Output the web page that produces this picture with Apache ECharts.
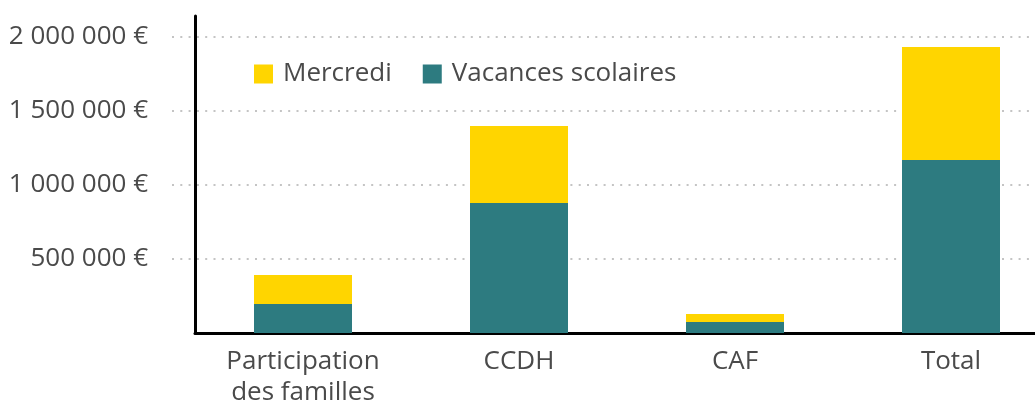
<!DOCTYPE html>
<html>
<head>
<meta charset="utf-8">
<script src="https://cdn.jsdelivr.net/npm/echarts@6/dist/echarts.min.js"></script>
<style>
  html, body { margin: 0; padding: 0; background: #fff; }
  #chart { width: 1035px; height: 405px; }
</style>
</head>
<body>
<div id="chart"></div>
<script>
// data
var categories = ['Participation\ndes familles', 'CCDH', 'CAF', 'Total'];
var vacances = [196000, 878000, 74000, 1169000];
var mercredi = [196000, 521000, 54000, 763000];
var tickValues = [500000, 1000000, 1500000, 2000000];

var textColor = '#4a4a4a';
var font = 'Open Sans';
var fs = 26;

function euro(v) {
    var s = String(Math.round(v));
    return s.replace(/\B(?=(\d{3})+(?!\d))/g, ' ') + ' €';
}

var chart = echarts.init(document.getElementById('chart'));

var option = {
    animation: false,
    grid: [
        // grid for the dotted lines and labels
        { left: 172, right: 0, top: 37, bottom: 146, outerBoundsMode: 'none' },
        // grid for the bars and axis lines
        { left: 195, top: 16, bottom: 72, width: 864, outerBoundsMode: 'none' }
    ],
    legend: {
        data: ['Mercredi', 'Vacances scolaires'],
        left: 254,
        top: 61,
        padding: 0,
        icon: 'rect',
        itemWidth: 19,
        itemHeight: 19,
        itemGap: 31,
        textStyle: { color: textColor, fontSize: fs, lineHeight: 26, fontFamily: font, padding: [0, 0, 0, 5] }
    },
    xAxis: [
        { gridIndex: 0, type: 'value', show: false },
        {
            gridIndex: 1,
            type: 'category',
            data: categories,
            axisLine: { lineStyle: { color: '#000', width: 3 } },
            axisTick: { show: false },
            axisLabel: {
                color: textColor, fontSize: fs, fontFamily: font,
                margin: 13, lineHeight: 31
            }
        }
    ],
    yAxis: [
        {
            gridIndex: 0,
            type: 'value',
            min: tickValues[0],
            max: tickValues[tickValues.length - 1],
            interval: 500000,
            axisLine: { show: false },
            axisTick: { show: false },
            splitLine: { lineStyle: { color: '#c4c4c4', width: 2, type: [2, 6.3] } },
            axisLabel: {
                color: textColor, fontSize: fs, fontFamily: font, margin: 24,
                formatter: euro
            }
        },
        {
            gridIndex: 1,
            type: 'value',
            min: 0,
            max: 2142000,
            axisLine: { show: true, lineStyle: { color: '#000', width: 3 } },
            axisTick: { show: false },
            axisLabel: { show: false },
            splitLine: { show: false }
        }
    ],
    series: [
        {
            name: 'Vacances scolaires',
            type: 'bar',
            stack: 'tot',
            xAxisIndex: 1,
            yAxisIndex: 1,
            barWidth: 98,
            itemStyle: { color: '#2d7b80' },
            data: vacances
        },
        {
            name: 'Mercredi',
            type: 'bar',
            stack: 'tot',
            xAxisIndex: 1,
            yAxisIndex: 1,
            barWidth: 98,
            itemStyle: { color: '#ffd500' },
            data: mercredi
        }
    ]
};

chart.setOption(option);
</script>
</body>
</html>
